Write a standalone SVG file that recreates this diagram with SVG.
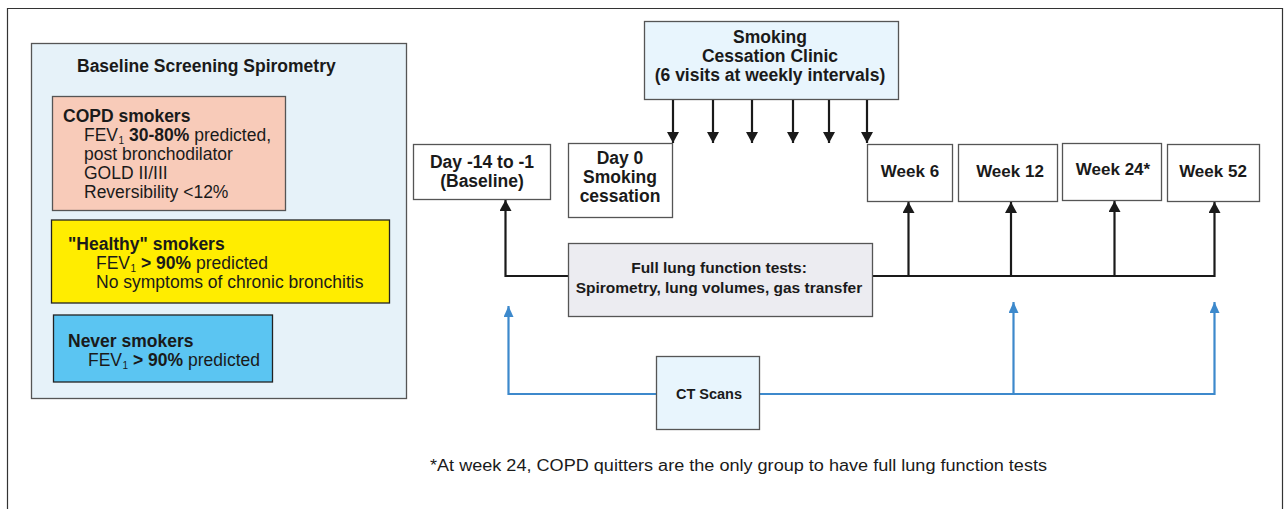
<svg xmlns="http://www.w3.org/2000/svg" width="1285" height="509" viewBox="0 0 1285 509">
<defs>
<style>
text{font-family:"Liberation Sans",Arial,sans-serif;fill:#1a1a1a}
.b{font-weight:bold}
.box{stroke:#555;stroke-width:1.3}
.blk{fill:none;stroke:#1a1a1a;stroke-width:2.2}
.blu{fill:none;stroke:#3d89cc;stroke-width:2.2}
.sub{font-size:10px}
.t{font-size:17.5px}
.h{font-size:17.5px;font-weight:bold}
</style>
<marker id="ak" markerWidth="13" markerHeight="12" refX="11" refY="6" orient="auto" markerUnits="userSpaceOnUse"><path d="M0,0 L11,6 L0,12 z" fill="#1a1a1a"/></marker>
<marker id="ab" markerWidth="12" markerHeight="10" refX="11" refY="5" orient="auto" markerUnits="userSpaceOnUse"><path d="M0,0 L11,5 L0,10 z" fill="#3d89cc"/></marker>
</defs>
<rect x="0" y="0" width="1285" height="509" fill="#fff"/>
<path d="M7.5,515 V8.5 H1282.5 V515" fill="none" stroke="#333" stroke-width="1.2"/>

<g id="baseline-panel">
<rect x="31.5" y="43.5" width="375" height="355" fill="#e6f2f9" class="box"/>
<text x="77" y="72" class="b" font-size="17.5">Baseline Screening Spirometry</text>
</g>
<g id="copd">
<rect x="52.5" y="96.5" width="233" height="114" fill="#f8cbb9" class="box"/>
<text x="63" y="122" class="h">COPD smokers</text>
<text x="84" y="141" class="t">FEV</text>
<text x="118.5" y="143.5" class="sub">1</text>
<text x="129" y="141" class="t"><tspan class="b">30-80%</tspan> predicted,</text>
<text class="t"><tspan x="84" y="160">post bronchodilator</tspan><tspan x="84" y="179">GOLD II/III</tspan><tspan x="84" y="198">Reversibility &lt;12%</tspan></text>
</g>
<g id="healthy">
<rect x="51.5" y="220" width="338" height="83" fill="#ffed00" stroke="#222" stroke-width="1.3"/>
<text x="68" y="250" class="h">"Healthy" smokers</text>
<text x="96" y="269" class="t">FEV</text>
<text x="130.5" y="271.5" class="sub">1</text>
<text x="141" y="269" class="t"><tspan class="b">&gt; 90%</tspan> predicted</text>
<text x="96" y="288" class="t">No symptoms of chronic bronchitis</text>
</g>
<g id="never">
<rect x="53.5" y="315" width="219" height="67" fill="#5bc5f2" stroke="#222" stroke-width="1.3"/>
<text x="68" y="347" class="h">Never smokers</text>
<text x="88" y="366" class="t">FEV</text>
<text x="122.5" y="368.5" class="sub">1</text>
<text x="133" y="366" class="t"><tspan class="b">&gt; 90%</tspan> predicted</text>
</g>

<g id="clinic">
<rect x="644.5" y="21.5" width="254" height="78" fill="#e8f5fd" class="box"/>
<text x="770" y="43" class="h" text-anchor="middle">Smoking</text>
<text x="770" y="62" class="h" text-anchor="middle">Cessation Clinic</text>
<text x="770" y="81" class="h" text-anchor="middle">(6 visits at weekly intervals)</text>
</g>
<g id="day-14">
<rect x="413.5" y="144.5" width="137" height="55" fill="#fff" class="box"/>
<text x="482" y="168" class="h" text-anchor="middle">Day -14 to -1</text>
<text x="482" y="187" class="h" text-anchor="middle">(Baseline)</text>
</g>
<g id="day0">
<rect x="568.5" y="143.5" width="104" height="74" fill="#fff" class="box"/>
<text x="620" y="164" class="h" text-anchor="middle">Day 0</text>
<text x="620" y="183" class="h" text-anchor="middle">Smoking</text>
<text x="620" y="202" class="h" text-anchor="middle">cessation</text>
</g>
<g id="week6">
<rect x="867.5" y="144.5" width="85" height="57" fill="#fff" class="box"/>
<text x="910" y="177" class="b" font-size="17" text-anchor="middle">Week 6</text>
</g>
<g id="week12">
<rect x="958.5" y="144.5" width="99" height="57" fill="#fff" class="box"/>
<text x="1010" y="177" class="b" font-size="17" text-anchor="middle">Week 12</text>
</g>
<g id="week24">
<rect x="1062.5" y="143.5" width="99" height="57" fill="#fff" class="box"/>
<text x="1113" y="175" class="b" font-size="17" text-anchor="middle">Week 24*</text>
</g>
<g id="week52">
<rect x="1167.5" y="144.5" width="92" height="57" fill="#fff" class="box"/>
<text x="1213" y="177" class="b" font-size="17" text-anchor="middle">Week 52</text>
</g>

<g id="connectors">
<path class="blk" d="M673,100 V143" marker-end="url(#ak)"/>
<path class="blk" d="M713,100 V143" marker-end="url(#ak)"/>
<path class="blk" d="M752,100 V143" marker-end="url(#ak)"/>
<path class="blk" d="M793,100 V143" marker-end="url(#ak)"/>
<path class="blk" d="M829,100 V143" marker-end="url(#ak)"/>
<path class="blk" d="M867,100 V143" marker-end="url(#ak)"/>
<path class="blk" d="M568,276 H505.5 V200" marker-end="url(#ak)"/>
<path class="blk" d="M872,276 H1214.5 V202" marker-end="url(#ak)"/>
<path class="blk" d="M908.5,276 V202" marker-end="url(#ak)"/>
<path class="blk" d="M1011,276 V202" marker-end="url(#ak)"/>
<path class="blk" d="M1114.5,276 V201" marker-end="url(#ak)"/>
<path class="blu" d="M656,394 H508.5 V306" marker-end="url(#ab)"/>
<path class="blu" d="M759,394 H1214.5 V302" marker-end="url(#ab)"/>
<path class="blu" d="M1013.5,394 V302" marker-end="url(#ab)"/>
</g>

<g id="lung-tests">
<rect x="568.5" y="243.5" width="304" height="73" fill="#ececf1" class="box"/>
<text x="719" y="273" class="b" font-size="15.5" text-anchor="middle">Full lung function tests:</text>
<text x="719" y="293" class="b" font-size="15.5" text-anchor="middle">Spirometry, lung volumes, gas transfer</text>
</g>
<g id="ct">
<rect x="656.5" y="356.5" width="103" height="73" fill="#e8f5fd" class="box"/>
<text x="709" y="399" class="b" font-size="14.5" text-anchor="middle">CT Scans</text>
</g>
<text x="430" y="471" font-size="16" textLength="617" lengthAdjust="spacingAndGlyphs">*At week 24, COPD quitters are the only group to have full lung function tests</text>
</svg>
